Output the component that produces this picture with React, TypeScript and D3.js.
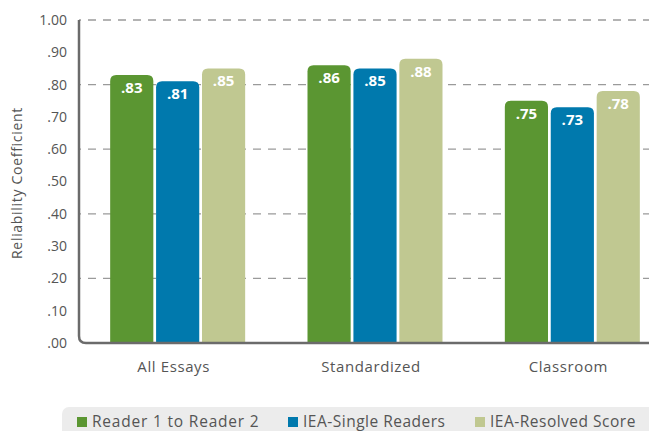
import { useEffect, useRef } from "react";
import * as d3 from "d3";

const CATEGORIES = ["All Essays", "Standardized", "Classroom"];
const SERIES = ["Reader 1 to Reader 2", "IEA-Single Readers", "IEA-Resolved Score"];
const READER_TO_READER = [0.83, 0.86, 0.75];
const IEA_SINGLE = [0.81, 0.85, 0.73];
const IEA_RESOLVED = [0.85, 0.88, 0.78];
const Y_TICKS = [0, 0.1, 0.2, 0.3, 0.4, 0.5, 0.6, 0.7, 0.8, 0.9, 1.0];
const GRID_TICKS = [0.2, 0.4, 0.6, 0.8, 1.0];

const WIDTH = 649;
const HEIGHT = 431;
const COLORS = ["#5b9632", "#0079ad", "#c0c891"];
const AXIS_COLOR = "#6b6b6b";
const TEXT_COLOR = "#555";
const FONT = "'Open Sans', Lato, sans-serif";

function fmt(v: number) {
  const s = v.toFixed(2);
  return v < 1 ? s.slice(1) : s;
}

// bar with rounded top corners only
function topRounded(x: number, y: number, w: number, h: number, r: number) {
  return `M${x},${y + h}V${y + r}Q${x},${y} ${x + r},${y}H${x + w - r}Q${x + w},${y} ${x + w},${y + r}V${y + h}Z`;
}

function renderChart(el: SVGSVGElement) {
  const svg = d3.select(el);
  svg.selectAll("*").remove();

  const values = [READER_TO_READER, IEA_SINGLE, IEA_RESOLVED];
  const left = 79;
  const top = 20;
  const bottom = 343;

  const y = d3.scaleLinear().domain([0, 1]).range([bottom, top]);
  const x0 = d3.scaleBand().domain(CATEGORIES).range([left, 671]).paddingInner(0).paddingOuter(0);
  const x1 = d3.scaleBand().domain(SERIES).range([0, 135]).paddingInner(0.06).paddingOuter(0);

  // dashed gridlines
  svg
    .append("g")
    .selectAll("line")
    .data(GRID_TICKS)
    .join("line")
    .attr("x1", left)
    .attr("x2", WIDTH)
    .attr("y1", (d) => y(d))
    .attr("y2", (d) => y(d))
    .attr("stroke", "#9a9a9a")
    .attr("stroke-width", 1.3)
    .attr("stroke-dasharray", "8,7")
    .attr("stroke-dashoffset", -9);

  // y tick labels
  svg
    .append("g")
    .selectAll("text")
    .data(Y_TICKS)
    .join("text")
    .attr("x", 67)
    .attr("y", (d) => y(d))
    .attr("dy", "0.35em")
    .attr("text-anchor", "end")
    .attr("fill", TEXT_COLOR)
    .attr("font-size", 14)
    .style("font-family", FONT)
    .text((d) => fmt(d));

  // y axis title
  svg
    .append("text")
    .attr("transform", `translate(22,183) rotate(-90)`)
    .attr("text-anchor", "middle")
    .attr("fill", TEXT_COLOR)
    .attr("font-size", 14)
    .attr("letter-spacing", 0.7)
    .style("font-family", FONT)
    .text("Reliability Coefficient");

  // bars
  const groups = svg
    .append("g")
    .selectAll("g")
    .data(CATEGORIES)
    .join("g")
    .attr("transform", (d) => `translate(${x0(d)! + (x0.bandwidth() - 135) / 2},0)`);

  groups.each(function (cat, ci) {
    const g = d3.select(this);
    SERIES.forEach((s, si) => {
      const v = values[si][ci];
      const bx = x1(s)!;
      const by = y(v);
      g.append("path")
        .attr("d", topRounded(bx, by, x1.bandwidth(), bottom - by, 6))
        .attr("fill", COLORS[si]);
      g.append("text")
        .attr("x", bx + x1.bandwidth() / 2)
        .attr("y", by + 18)
        .attr("text-anchor", "middle")
        .attr("fill", "#fff")
        .attr("font-size", 15)
        .attr("font-weight", 700)
        .style("font-family", FONT)
        .text(fmt(v));
    });
  });

  // axis line with rounded corner
  const r = 7;
  svg
    .append("path")
    .attr("d", `M${left},${top}V${bottom - r}Q${left},${bottom} ${left + r},${bottom}H${WIDTH}`)
    .attr("fill", "none")
    .attr("stroke", AXIS_COLOR)
    .attr("stroke-width", 2.5);

  // category labels
  svg
    .append("g")
    .selectAll("text")
    .data(CATEGORIES)
    .join("text")
    .attr("x", (d) => x0(d)! + x0.bandwidth() / 2 - 4)
    .attr("y", 372)
    .attr("text-anchor", "middle")
    .attr("fill", TEXT_COLOR)
    .attr("font-size", 15)
    .attr("letter-spacing", 0.6)
    .style("font-family", FONT)
    .text((d) => d);

  // legend (cut by the bottom edge, as in the source)
  const legend = svg.append("g");
  legend
    .append("rect")
    .attr("x", 62)
    .attr("y", 407)
    .attr("width", 600)
    .attr("height", 40)
    .attr("rx", 7)
    .attr("fill", "#ececec");
  const legendX = [77, 288, 475];
  SERIES.forEach((s, i) => {
    legend
      .append("rect")
      .attr("x", legendX[i])
      .attr("y", 417)
      .attr("width", 10)
      .attr("height", 10)
      .attr("fill", COLORS[i]);
    legend
      .append("text")
      .attr("x", legendX[i] + 15)
      .attr("y", 427)
      .attr("fill", TEXT_COLOR)
      .attr("font-size", 15.5)
      .attr("letter-spacing", i === 0 ? 0.8 : 0.5)
      .style("font-family", FONT)
      .text(s);
  });
}

export default function App() {
  const ref = useRef<SVGSVGElement>(null);
  useEffect(() => {
    if (ref.current) renderChart(ref.current);
  }, []);
  return (
    <svg
      ref={ref}
      width={WIDTH}
      height={HEIGHT}
      style={{ position: "absolute", left: 0, top: 0, background: "#fff" }}
    />
  );
}
